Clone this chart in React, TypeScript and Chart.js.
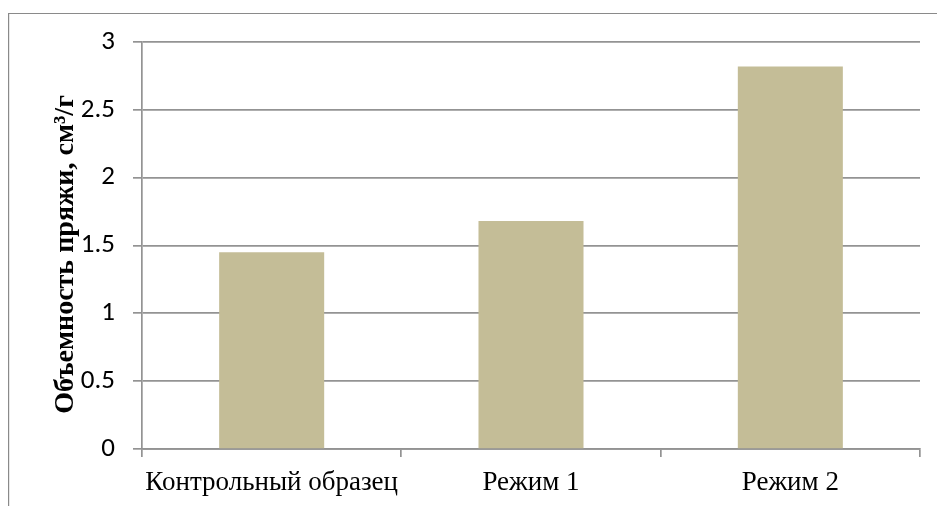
import React, { useEffect, useRef } from "react";
import { Chart, registerables } from "chart.js";

Chart.register(...registerables);

const categories = ["Контрольный образец", "Режим 1", "Режим 2"];
const values = [1.45, 1.68, 2.82];
const yTicks = [0, 0.5, 1, 1.5, 2, 2.5, 3];
const yTitle = "Объемность пряжи, см³/г";

const GRID = "#939393";

const framePlugin = {
  id: "frame",
  beforeDraw(chart: any) {
    const { ctx, width, height } = chart;
    ctx.save();
    ctx.fillStyle = "#ffffff";
    ctx.fillRect(0, 0, width, height);
    ctx.strokeStyle = "#8a8a8a";
    ctx.lineWidth = 1.2;
    ctx.beginPath();
    ctx.moveTo(8.6, height + 5);
    ctx.lineTo(8.6, 13.5);
    ctx.lineTo(width + 5, 13.5);
    ctx.stroke();
    ctx.restore();
  },
  afterDraw(chart: any) {
    const { ctx, chartArea } = chart;
    ctx.save();
    const cy = (chartArea.top + chartArea.bottom) / 2 + 9;
    ctx.translate(chartArea.left - 69, cy);
    ctx.rotate(-Math.PI / 2);
    ctx.font = "bold 28px 'Liberation Serif', 'Times New Roman', serif";
    ctx.fillStyle = "#000000";
    ctx.textAlign = "center";
    ctx.textBaseline = "alphabetic";
    ctx.fillText(yTitle, 0, 0);
    ctx.restore();
  },
};

export default function App() {
  const ref = useRef<HTMLCanvasElement | null>(null);
  useEffect(() => {
    document.body.style.margin = "0";
    document.body.style.overflow = "hidden";
    if (!ref.current) return;
    const chart = new Chart(ref.current, {
      type: "bar",
      data: {
        labels: categories,
        datasets: [
          {
            data: values,
            backgroundColor: "#C4BD97",
            borderWidth: 0,
            barPercentage: 0.405,
            categoryPercentage: 1,
          },
        ],
      },
      options: {
        animation: false,
        responsive: false,
        maintainAspectRatio: false,
        layout: { padding: { left: 0, top: 42, right: 17, bottom: 0 } },
        plugins: { legend: { display: false }, tooltip: { enabled: false } },
        scales: {
          x: {
            offset: true,
            grid: {
              display: true,
              offset: true,
              drawOnChartArea: false,
              drawTicks: true,
              tickLength: 8,
              color: GRID,
              lineWidth: 1.7,
            },
            border: { display: true, color: GRID, width: 1.7 },
            ticks: {
              color: "#000000",
              padding: 10,
              maxRotation: 0,
              autoSkip: false,
              font: { family: "'Liberation Serif', 'Times New Roman', serif", size: 27 },
            },
            afterFit(scale: any) {
              scale.height = 57;
            },
          },
          y: {
            min: 0,
            max: 3,
            afterBuildTicks(scale: any) {
              scale.ticks = yTicks.map((v) => ({ value: v }));
            },
            grid: {
              color: GRID,
              lineWidth: 1.7,
              drawTicks: true,
              tickLength: 9,
            },
            border: { display: true, color: GRID, width: 1.7 },
            ticks: {
              color: "#000000",
              padding: 18,
              font: { family: "Carlito, Lato, 'Open Sans', sans-serif", size: 27 },
              callback: (v: any) => String(v),
            },
            afterFit(scale: any) {
              scale.width = 142;
            },
          },
        },
      },
      plugins: [framePlugin],
    });
    return () => chart.destroy();
  }, []);
  return (
    <div style={{ width: 937, height: 506, overflow: "hidden" }}>
      <canvas ref={ref} width={937} height={506} style={{ display: "block" }} />
    </div>
  );
}
